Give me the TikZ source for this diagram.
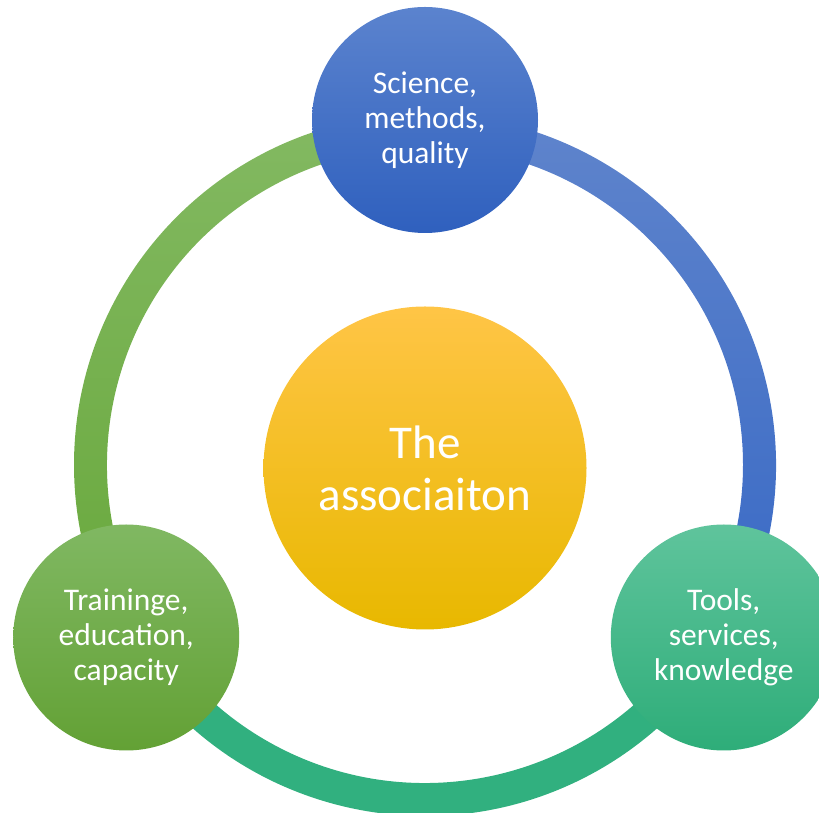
\documentclass[tikz,border=0pt]{standalone}
\usepackage{fontspec}
\setmainfont{Carlito}
\usetikzlibrary{calc}
\definecolor{bluetop}{HTML}{5B83CE}
\definecolor{bluebot}{HTML}{2F60BE}
\definecolor{arcbluetop}{HTML}{5F84CC}
\definecolor{arcbluebot}{HTML}{3869C5}
\definecolor{yeltop}{HTML}{FFC546}
\definecolor{yelmid}{HTML}{FFC400}
\definecolor{yelbot}{HTML}{E8B800}
\definecolor{greentop}{HTML}{80B862}
\definecolor{greenbot}{HTML}{63A135}
\definecolor{arcgreentop}{HTML}{83B962}
\definecolor{arcgreenbot}{HTML}{68A83B}
\definecolor{tealtop}{HTML}{5FC49C}
\definecolor{tealbot}{HTML}{2EAD79}
\definecolor{arcteal}{HTML}{31B07F}
\tikzset{
  sat/.style={circle, minimum size=226pt, inner sep=0pt, align=center, text=white,
    font=\fontsize{31.5}{35}\selectfont},
  hub/.style={circle, minimum size=323pt, inner sep=0pt, align=center, text=white,
    font=\fontsize{47}{52}\selectfont, top color=yeltop, middle color=yelmid, bottom color=yelbot},
}
\begin{document}
\begin{tikzpicture}[x=1pt,y=1pt]
\useasboundingbox (0,0) rectangle (819,813);
\coordinate (c) at (425,348);
\def\rin{318}
\def\rout{351}
% ring segments
\shade[top color=arcgreentop, bottom color=arcgreenbot]
  ($(c)+(90:\rout)$) arc[start angle=90, end angle=210, radius=\rout]
  -- ($(c)+(210:\rin)$) arc[start angle=210, end angle=90, radius=\rin] -- cycle;
\shade[top color=arcbluetop, bottom color=arcbluebot]
  ($(c)+(-30:\rout)$) arc[start angle=-30, end angle=90, radius=\rout]
  -- ($(c)+(90:\rin)$) arc[start angle=90, end angle=-30, radius=\rin] -- cycle;
\fill[arcteal]
  ($(c)+(210:\rout)$) arc[start angle=210, end angle=330, radius=\rout]
  -- ($(c)+(330:\rin)$) arc[start angle=330, end angle=210, radius=\rin] -- cycle;
% nodes
\node[hub] (hub) at ($(c)+(0,-3)$) {The\\associaiton};
\node[sat, top color=bluetop, bottom color=bluebot] (sci) at ($(c)+(90:345)$) {Science,\\methods,\\quality};
\node[sat, top color=greentop, bottom color=greenbot] (train) at ($(c)+(210:345)$) {Traininge,\\education,\\capacity};
\node[sat, top color=tealtop, bottom color=tealbot] (tools) at ($(c)+(330:345)$) {Tools,\\services,\\knowledge};
\end{tikzpicture}
\end{document}
